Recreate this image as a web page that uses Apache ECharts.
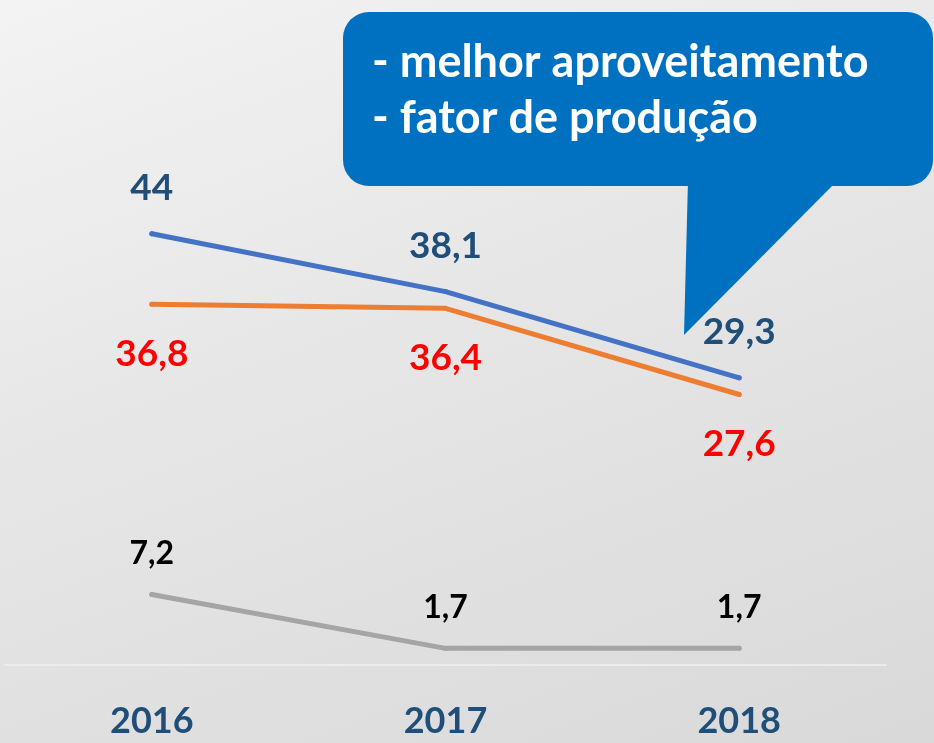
<!DOCTYPE html>
<html><head><meta charset="utf-8">
<script src="https://cdn.jsdelivr.net/npm/echarts@6/dist/echarts.min.js"></script>
<style>html,body{margin:0;padding:0;}#c{width:934px;height:743px;background:linear-gradient(160deg,#f3f3f3 0%,#e6e6e6 45%,#d9d9d9 100%);}</style>
</head><body><div id="c"></div>
<script>
var categories = ['2016', '2017', '2018'];
var blueValues = [44, 38.1, 29.3];
var orangeValues = [36.8, 36.4, 27.6];
var grayValues = [7.2, 1.7, 1.7];
var calloutLines = ['- melhor aproveitamento', '- fator de produção'];

var FONT = 'Lato';
function fmt(p){ return String(p.value).replace('.', ','); }
var chart = echarts.init(document.getElementById('c'), null, {renderer:'canvas'});
chart.setOption({
  backgroundColor: 'transparent',
  animation: false,
  grid: {left: 5, right: 48, top: 77, bottom: 78},
  xAxis: {
    type: 'category', data: categories, boundaryGap: true,
    axisLine: {show: true, lineStyle: {color: '#ececec', width: 2}},
    axisTick: {show: false},
    axisLabel: {color: '#1f4e79', fontFamily: FONT, fontWeight: 'bold', fontSize: 36, margin: 38}
  },
  yAxis: {type: 'value', min: 0, max: 60, show: false, splitLine: {show: false}},
  series: [
    {type: 'line', data: blueValues, symbol: 'circle', symbolSize: 5, showSymbol: true, itemStyle: {color: '#4472c4'}, lineStyle: {color: '#4472c4', width: 5, cap: 'round'},
     label: {show: true, position: 'top', distance: 25, formatter: fmt, color: '#1f4e79', fontFamily: FONT, fontWeight: 'bold', fontSize: 37}},
    {type: 'line', data: orangeValues, symbol: 'circle', symbolSize: 5, showSymbol: true, itemStyle: {color: '#ed7d31'}, lineStyle: {color: '#ed7d31', width: 5, cap: 'round'},
     label: {show: true, position: 'bottom', distance: 29, formatter: fmt, color: '#ff0000', fontFamily: FONT, fontWeight: 'bold', fontSize: 37}},
    {type: 'line', data: grayValues, symbol: 'circle', symbolSize: 5, showSymbol: true, itemStyle: {color: '#a5a5a5'}, lineStyle: {color: '#a5a5a5', width: 5, cap: 'round'},
     label: {show: true, position: 'top', distance: 22, formatter: fmt, color: '#000000', fontFamily: FONT, fontWeight: 'bold', fontSize: 32}}
  ],
  graphic: [
    {type: 'polygon', shape: {points: [[688, 180], [838, 180], [684, 335]]}, style: {fill: '#0070c0'}},
    {type: 'rect', shape: {x: 343, y: 12, width: 590, height: 174, r: 26}, style: {fill: '#0070c0'}},
    {type: 'text', left: 372, top: 34, style: {text: calloutLines.join('\n'), fill: '#ffffff', font: 'bold 45px Lato', lineHeight: 56}}
  ]
});
</script></body></html>
